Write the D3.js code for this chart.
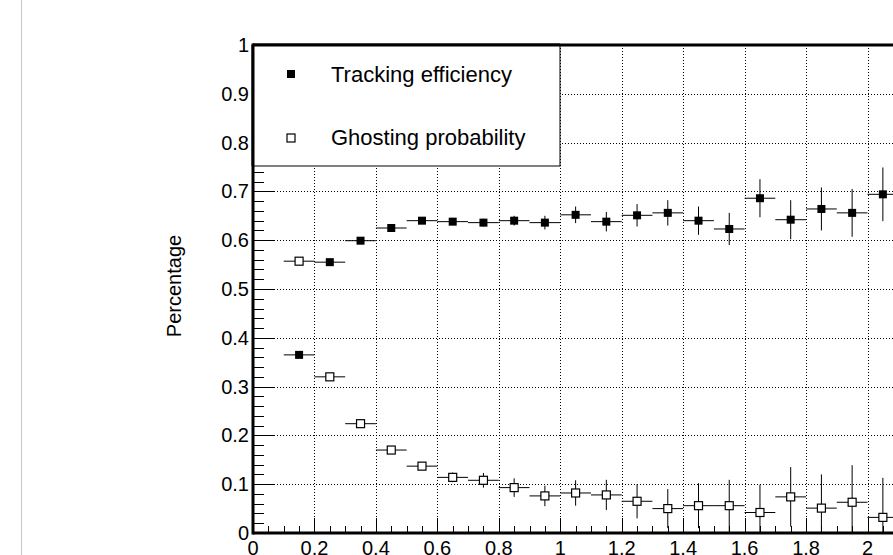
<!DOCTYPE html>
<html>
<head>
<meta charset="utf-8">
<script src="https://cdn.jsdelivr.net/npm/d3@7"></script>
<style>
  body { margin: 0; background: #fff; }
  svg { display: block; font-family: "Liberation Sans", Arial, sans-serif; }
</style>
</head>
<body>
<div id="chart"></div>
<script>
// bin centres (bin width 0.1)
const binCenters = [0.15, 0.25, 0.35, 0.45, 0.55, 0.65, 0.75, 0.85, 0.95, 1.05,
                    1.15, 1.25, 1.35, 1.45, 1.55, 1.65, 1.75, 1.85, 1.95, 2.05];
const binHalfWidth = 0.05;

const efficiency    = [0.365, 0.555, 0.599, 0.625, 0.640, 0.638, 0.636, 0.640, 0.636, 0.652,
                       0.638, 0.651, 0.656, 0.640, 0.623, 0.686, 0.642, 0.664, 0.656, 0.694];
const efficiencyErr = [0.003, 0.003, 0.004, 0.005, 0.006, 0.007, 0.008, 0.010, 0.014, 0.017,
                       0.020, 0.023, 0.026, 0.029, 0.033, 0.039, 0.040, 0.044, 0.049, 0.055];

const ghosting      = [0.557, 0.320, 0.224, 0.170, 0.137, 0.114, 0.108, 0.093, 0.076, 0.082,
                       0.078, 0.065, 0.050, 0.056, 0.056, 0.042, 0.074, 0.051, 0.063, 0.032];
const ghostingErr   = [0.003, 0.004, 0.005, 0.006, 0.008, 0.010, 0.015, 0.019, 0.021, 0.026,
                       0.031, 0.035, 0.040, 0.046, 0.053, 0.057, 0.061, 0.069, 0.076, 0.081];

const xTicks = [0, 0.2, 0.4, 0.6, 0.8, 1, 1.2, 1.4, 1.6, 1.8, 2, 2.2, 2.4];
const yTicks = [0, 0.1, 0.2, 0.3, 0.4, 0.5, 0.6, 0.7, 0.8, 0.9, 1];

const legendLabels = ["Tracking efficiency", "Ghosting probability"];

const W = 893, H = 555;
const svg = d3.select("#chart").append("svg")
    .attr("width", W).attr("height", H);

// page border line at the left
svg.append("line")
    .attr("x1", 21.5).attr("x2", 21.5).attr("y1", 0).attr("y2", H)
    .attr("stroke", "#c8c8c8").attr("stroke-width", 1);

const padLeft = 253, padTop = 45, padBottom = 533;
const x = d3.scaleLinear().domain([0, 2.5]).range([padLeft, padLeft + 307.25 * 2.5]);
const y = d3.scaleLinear().domain([0, 1]).range([padBottom, padTop]);
const padRight = x(2.5);

// grid
const grid = svg.append("g")
    .attr("stroke", "#000").attr("stroke-width", 1).attr("stroke-dasharray", "1,2");
grid.selectAll(".gx").data(xTicks.filter(d => d > 0))
  .join("line")
    .attr("x1", d => Math.round(x(d)) + 0.5).attr("x2", d => Math.round(x(d)) + 0.5)
    .attr("y1", padTop).attr("y2", padBottom);
grid.selectAll(".gy").data(yTicks.filter(d => d > 0 && d < 1))
  .join("line")
    .attr("x1", padLeft).attr("x2", padRight)
    .attr("y1", d => Math.round(y(d)) + 0.5).attr("y2", d => Math.round(y(d)) + 0.5);

// minor + major ticks, drawn inward
const ticks = svg.append("g").attr("stroke", "#000").attr("stroke-width", 1);
const xMinor = d3.range(0, 2.5001, 0.05);
ticks.selectAll(".xt").data(xMinor)
  .join("line")
    .attr("x1", d => Math.round(x(d)) + 0.5).attr("x2", d => Math.round(x(d)) + 0.5)
    .attr("y1", padBottom)
    .attr("y2", (d, i) => padBottom - (i % 4 === 0 ? 15 : 7));
const yMinor = d3.range(0, 1.0001, 0.02);
ticks.selectAll(".yt").data(yMinor)
  .join("line")
    .attr("y1", d => Math.round(y(d)) + 0.5).attr("y2", d => Math.round(y(d)) + 0.5)
    .attr("x1", padLeft)
    .attr("x2", (d, i) => padLeft + (i % 5 === 0 ? 22 : 11));

// frame
svg.append("line").attr("x1", padLeft).attr("x2", padRight).attr("y1", padTop).attr("y2", padTop)
    .attr("stroke", "#000").attr("stroke-width", 3);
svg.append("line").attr("x1", padLeft).attr("x2", padRight).attr("y1", padBottom).attr("y2", padBottom)
    .attr("stroke", "#000").attr("stroke-width", 3);
svg.append("line").attr("x1", padLeft).attr("x2", padLeft).attr("y1", padTop - 1.5).attr("y2", padBottom + 1.5)
    .attr("stroke", "#000").attr("stroke-width", 3);

// tick labels
svg.append("g").selectAll("text").data(yTicks)
  .join("text")
    .attr("x", padLeft - 4).attr("y", d => y(d) + 7)
    .attr("text-anchor", "end").attr("font-size", 20)
    .text(d => d3.format("~g")(d));
svg.append("g").selectAll("text").data(xTicks)
  .join("text")
    .attr("x", d => x(d)).attr("y", padBottom + 22)
    .attr("text-anchor", "middle").attr("font-size", 20)
    .text(d => d3.format("~g")(d));

// axis title
svg.append("text")
    .attr("transform", `translate(181,286) rotate(-90)`)
    .attr("text-anchor", "middle").attr("font-size", 20)
    .text("Percentage");

// error bars + markers
function drawSeries(vals, errs, filled) {
  const g = svg.append("g");
  const data = binCenters.map((c, i) => ({ c, v: vals[i], e: errs[i] }));
  g.selectAll(".h").data(data).join("line")
    .attr("x1", d => x(d.c - binHalfWidth)).attr("x2", d => x(d.c + binHalfWidth))
    .attr("y1", d => y(d.v)).attr("y2", d => y(d.v))
    .attr("stroke", "#000").attr("stroke-width", 1);
  g.selectAll(".v").data(data).join("line")
    .attr("x1", d => x(d.c)).attr("x2", d => x(d.c))
    .attr("y1", d => y(Math.max(0, d.v - d.e))).attr("y2", d => y(d.v + d.e))
    .attr("stroke", "#000").attr("stroke-width", 1);
  const s = 8;
  g.selectAll("rect").data(data).join("rect")
    .attr("x", d => x(d.c) - s / 2).attr("y", d => y(d.v) - s / 2)
    .attr("width", s).attr("height", s)
    .attr("fill", filled ? "#000" : "#fff")
    .attr("stroke", "#000").attr("stroke-width", filled ? 0 : 1.2);
}
drawSeries(ghosting, ghostingErr, false);
drawSeries(efficiency, efficiencyErr, true);

// legend
const lg = svg.append("g");
lg.append("rect")
    .attr("x", padLeft).attr("y", padTop).attr("width", 560 - padLeft).attr("height", 166 - padTop)
    .attr("fill", "#fff").attr("stroke", "#000").attr("stroke-width", 1);
lg.append("line").attr("x1", padLeft).attr("x2", 560).attr("y1", padTop).attr("y2", padTop)
    .attr("stroke", "#000").attr("stroke-width", 3);
lg.append("line").attr("x1", padLeft).attr("x2", padLeft).attr("y1", padTop).attr("y2", 166)
    .attr("stroke", "#000").attr("stroke-width", 3);
lg.append("rect").attr("x", 287).attr("y", 70).attr("width", 8).attr("height", 8).attr("fill", "#000");
lg.append("rect").attr("x", 287).attr("y", 134).attr("width", 8).attr("height", 8)
    .attr("fill", "#fff").attr("stroke", "#000").attr("stroke-width", 1.2);
lg.selectAll(".lt").data(legendLabels).join("text")
    .attr("x", 331).attr("y", (d, i) => 82 + i * 63)
    .attr("font-size", 22)
    .text(d => d);
</script>
</body>
</html>
